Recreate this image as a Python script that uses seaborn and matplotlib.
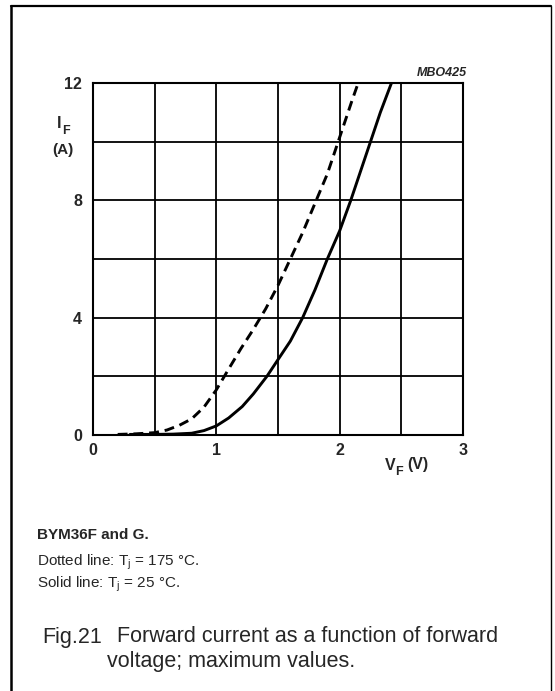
import matplotlib
matplotlib.use("Agg")
import matplotlib.pyplot as plt
from matplotlib.lines import Line2D
import numpy as np
import pandas as pd
import seaborn as sns

# ---- data ----
vf_175 = [0.20, 0.35, 0.50, 0.60, 0.70, 0.80, 0.90, 1.00, 1.10, 1.20, 1.30,
          1.40, 1.50, 1.60, 1.70, 1.80, 1.90, 2.00, 2.10, 2.15]
if_175 = [0.02, 0.04, 0.08, 0.17, 0.33, 0.55, 0.95, 1.54, 2.25, 2.95, 3.60,
          4.30, 5.10, 6.00, 6.90, 7.90, 8.90, 10.15, 11.40, 12.00]

vf_25 = [0.30, 0.50, 0.65, 0.80, 0.90, 1.00, 1.10, 1.21, 1.30, 1.41, 1.50,
         1.60, 1.70, 1.80, 1.90, 2.00, 2.09, 2.17, 2.25, 2.33, 2.42]
if_25 = [0.02, 0.02, 0.03, 0.06, 0.15, 0.31, 0.58, 0.97, 1.40, 2.00, 2.57,
         3.20, 4.00, 4.95, 6.00, 6.96, 8.00, 9.00, 10.00, 11.00, 12.00]

x_ticks = [0, 1, 2, 3]
y_ticks = [0, 4, 8, 12]
x_grid = [0.5, 1.5, 2.5]
y_grid = [2, 6, 10]

sns.set_theme(style="white")
plt.rcParams["font.family"] = ["Liberation Sans", "DejaVu Sans"]
plt.rcParams["mathtext.fontset"] = "custom"
plt.rcParams["mathtext.rm"] = "Liberation Sans"
plt.rcParams["mathtext.bf"] = "Liberation Sans:bold"
plt.rcParams["mathtext.it"] = "Liberation Sans:italic"

W, H = 555, 691
fig = plt.figure(figsize=(W / 100, H / 100), dpi=100)
fig.patch.set_facecolor("white")

def fx(x):
    return x / W

def fy(y):
    return 1 - y / H

left, right, top, bottom = 93, 463, 83, 435
ax = fig.add_axes([fx(left), fy(bottom), (right - left) / W, (bottom - top) / H])

df = pd.concat([
    pd.DataFrame({"VF": vf_175, "IF": if_175, "Tj": "175"}),
    pd.DataFrame({"VF": vf_25, "IF": if_25, "Tj": "25"}),
], ignore_index=True)

sns.lineplot(data=df[df.Tj == "175"], x="VF", y="IF", ax=ax, color="black",
             lw=2.1, sort=False, estimator=None)
ax.lines[-1].set_dashes((3.4, 2.0))
sns.lineplot(data=df[df.Tj == "25"], x="VF", y="IF", ax=ax, color="black",
             lw=2.1, sort=False, estimator=None)

ax.set_xlim(0, 3)
ax.set_ylim(0, 12)
ax.set_xticks(x_ticks)
ax.set_yticks(y_ticks)
ax.set_xticks(x_grid, minor=True)
ax.set_yticks(y_grid, minor=True)
ax.set_xticklabels([str(v) for v in x_ticks], fontsize=11.5, fontweight="bold")
ax.set_yticklabels([str(v) for v in y_ticks], fontsize=11.5, fontweight="bold")
ax.tick_params(axis="both", which="both", length=0)
ax.tick_params(axis="x", pad=6)
ax.tick_params(axis="y", pad=8)
ax.grid(True, which="both", color="black", lw=1.3)
ax.set_axisbelow(True)
for s in ax.spines.values():
    s.set_visible(True)
    s.set_color("black")
    s.set_linewidth(1.5)
ax.set_xlabel("")
ax.set_ylabel("")

# axis labels
fig.text(fx(57), fy(124), "I", fontsize=11.5, fontweight="bold", ha="left", va="center")
fig.text(fx(62), fy(131), "F", fontsize=9, fontweight="bold", ha="left", va="center")
fig.text(fx(63), fy(150), "(A)", fontsize=11, fontweight="bold", ha="center", va="center")
fig.text(fx(385), fy(465), "V", fontsize=11.5, fontweight="bold", ha="left", va="center")
fig.text(fx(395), fy(472), "F", fontsize=9, fontweight="bold", ha="left", va="center")
fig.text(fx(407), fy(465), "(V)", fontsize=11.5, fontweight="bold", ha="left", va="center")
fig.text(fx(467), fy(73), "MBO425", fontsize=9, fontweight="bold", style="italic",
         ha="right", va="center")

# notes
fig.text(fx(37), fy(535), "BYM36F and G.", fontsize=11, fontweight="bold", ha="left", va="center")
fig.text(fx(37), fy(562), r"Dotted line: T$_\mathrm{j}$ = 175 °C.", fontsize=11, ha="left", va="center")
fig.text(fx(37), fy(584), r"Solid line: T$_\mathrm{j}$ = 25 °C.", fontsize=11, ha="left", va="center")

# caption
fig.text(fx(42), fy(637), "Fig.21", fontsize=15.5, ha="left", va="center")
fig.text(fx(117), fy(637), "Forward current as a function of forward", fontsize=15.5,
         ha="left", va="center")
fig.text(fx(107), fy(661), "voltage; maximum values.", fontsize=15.5, ha="left", va="center")

# frame
fig.add_artist(Line2D([fx(11), fx(11)], [0, fy(6)], color="black", lw=1.8))
fig.add_artist(Line2D([fx(11), fx(551)], [fy(6), fy(6)], color="black", lw=1.6))
fig.add_artist(Line2D([fx(551), fx(551)], [fy(6), 0], color="black", lw=1.0))

fig.savefig("out.png", dpi=100, facecolor="white")
